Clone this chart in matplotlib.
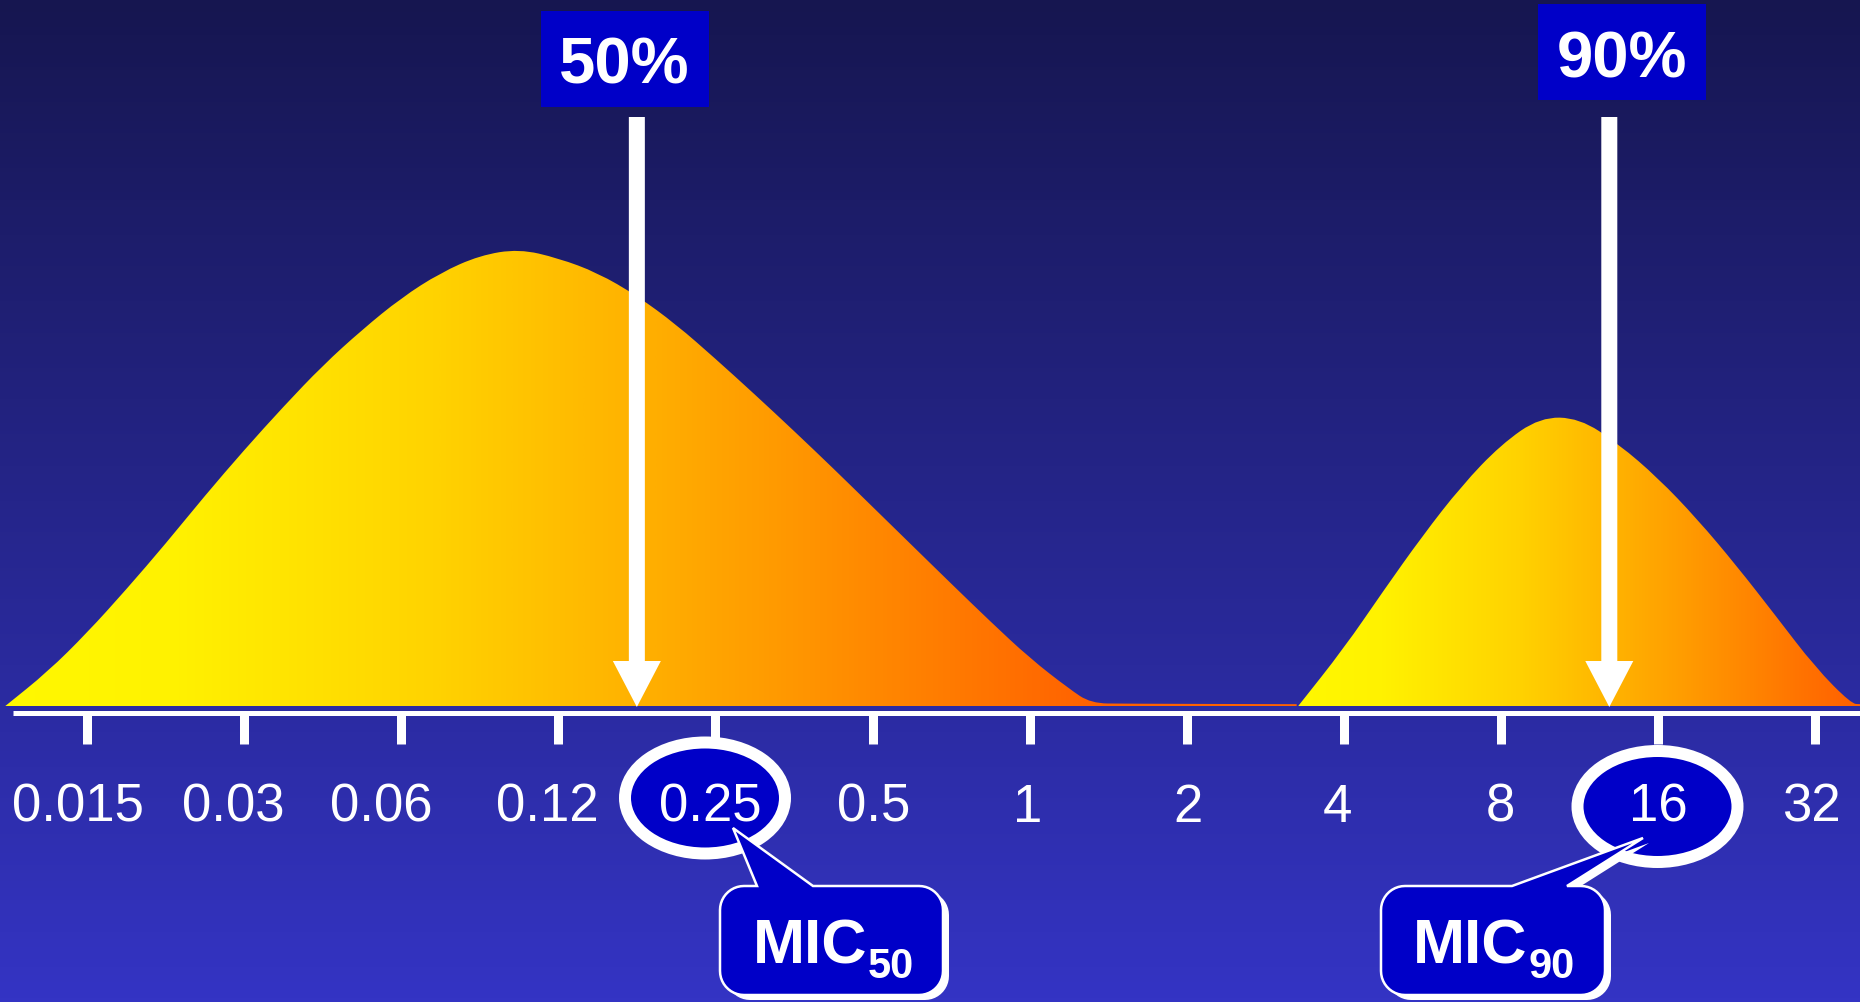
#!/usr/bin/env python3
"""MIC50 / MIC90 distribution sketch on a dilution axis."""
import numpy as np
import matplotlib
matplotlib.use('Agg')
import matplotlib.pyplot as plt
from matplotlib.path import Path
from matplotlib.patches import PathPatch, Polygon, Rectangle, Ellipse
from matplotlib.colors import LinearSegmentedColormap

# dilution series on the axis (mg/L)
mic_labels = ['0.015', '0.03', '0.06', '0.12', '0.25', '0.5',
              '1', '2', '4', '8', '16', '32']

# curves: x in dilution steps (0 = 0.015), height in % of the main peak
left_x = [-0.52, -0.25, 0.0, 0.25, 0.5, 0.75, 1.0, 1.25, 1.5, 1.75, 2.0,
          2.25, 2.5, 2.75, 3.0, 3.25, 3.5, 3.75, 4.0, 4.25, 4.5, 4.75,
          5.0, 5.25, 5.5, 5.75, 6.0, 6.25, 6.39, 6.6, 7.7]
left_h = [0, 7.5, 16.0, 25.5, 35.5, 46.0, 56.0, 65.5, 74.5, 82.3, 89.3,
          94.8, 98.6, 100.0, 98.0, 94.8, 89.8, 83.5, 76.0, 68.2, 60.2, 52.0,
          43.6, 35.2, 26.8, 18.5, 10.5, 3.8, 0.6, 0.5, 0.4]

right_x = [7.71, 8.0, 8.25, 8.5, 8.75, 9.0, 9.25, 9.5, 9.75, 10.0,
           10.25, 10.5, 10.75, 11.0, 11.23, 11.29]
right_h = [0, 12.6, 25.1, 37.2, 48.2, 57.2, 63.2, 63.0, 57.3, 49.9,
           40.9, 30.7, 19.7, 8.5, 0.5, 0.4]

mic50_step = 3.5     # 50% of isolates inhibited
mic90_step = 9.69    # 90% of isolates inhibited

W, H = 1860, 1002
STEP_PX = 157.1      # pixels per dilution step
X0_PX = 87           # pixel of the first tick
BASE_PX = 706        # curve baseline
UNIT_PX = 4.57       # pixels per height unit
# small horizontal nudges of the tick labels, in pixels
LABEL_NUDGE_PX = [-9, -11, -20, -11, -5, 1, -2, 1, -6, -1, 0, -4]

BOX_BLUE = '#0000C8'
FONT = 'Liberation Sans'


def dx(px):
    return (px - X0_PX) / STEP_PX


def dy(py):
    return (BASE_PX - py) / UNIT_PX


def lw(px):
    return px * 72 / 100


def smooth_fill_path(xs, hs):
    pts = np.column_stack([xs, hs]).astype(float)
    verts = [pts[0], (pts[0] + pts[1]) / 2]
    codes = [Path.MOVETO, Path.LINETO]
    for i in range(1, len(pts) - 1):
        verts += [pts[i], (pts[i] + pts[i + 1]) / 2]
        codes += [Path.CURVE3, Path.CURVE3]
    verts += [pts[-1], (pts[-1][0], 0), (pts[0][0], 0), (pts[0][0], 0)]
    codes += [Path.LINETO, Path.LINETO, Path.LINETO, Path.CLOSEPOLY]
    return Path(verts, codes)


def callout_points(x0, x1, y0, y1, r, base_a, base_b, tip):
    pts = [(x0 + r, y0), (base_a, y0), tip, (base_b, y0)]
    corners = [((x1 - r, y0 + r), -np.pi / 2, 0),
               ((x1 - r, y1 - r), 0, np.pi / 2),
               ((x0 + r, y1 - r), np.pi / 2, np.pi),
               ((x0 + r, y0 + r), np.pi, 1.5 * np.pi)]
    for (cx, cy), a, b in corners:
        for t in np.linspace(a, b, 12):
            pts.append((cx + r * np.cos(t), cy + r * np.sin(t)))
    return [(dx(x), dy(y)) for x, y in pts]


def main():
    fig = plt.figure(figsize=(W / 100, H / 100), dpi=100)
    ax = fig.add_axes([0, 0, 1, 1])
    ax.set_axis_off()
    xlim = (dx(0), dx(W))
    ylim = (dy(H), dy(0))

    # background: vertical navy gradient
    top = np.array([22, 22, 80]) / 255
    bot = np.array([52, 52, 196]) / 255
    t = np.linspace(0, 1, 256)[:, None]
    bg = (top[None, :] * (1 - t) + bot[None, :] * t)[:, None, :]
    ax.imshow(bg, extent=(xlim[0], xlim[1], ylim[0], ylim[1]),
              aspect='auto', origin='upper', zorder=0)

    # yellow -> orange fill
    cmap = LinearSegmentedColormap.from_list('fill', [
        (0.0, (1.0, 248 / 255, 0)),
        (0.15, (1.0, 242 / 255, 0)),
        (0.4, (1.0, 210 / 255, 0)),
        (0.7, (1.0, 156 / 255, 0)),
        (1.0, (1.0, 98 / 255, 0))])
    grad = np.linspace(0, 1, 512)[None, :]
    for xs, hs, x_end in [(left_x, left_h, 6.39), (right_x, right_h, 11.23)]:
        path = smooth_fill_path(xs, hs)
        patch = PathPatch(path, facecolor='none', edgecolor='none')
        ax.add_patch(patch)
        # gradient spans the body of the curve, the thin tail stays orange
        im = ax.imshow(grad, cmap=cmap, extent=(xs[0], x_end, 0, max(hs) + 5),
                       aspect='auto', origin='lower', zorder=1)
        tail = Rectangle((x_end, 0), xs[-1] - x_end + 0.01, max(hs),
                         facecolor=cmap(1.0), edgecolor='none', zorder=1)
        ax.add_patch(tail)
        tail.set_clip_path(patch)
        im.set_clip_path(patch)

    # axis line and ticks
    ax.plot([dx(13), xlim[1]], [dy(712.5)] * 2, color='white',
            lw=lw(5), solid_capstyle='butt', zorder=2)
    for i in range(len(mic_labels)):
        ax.plot([i, i], [dy(715), dy(744)], color='white', lw=lw(9),
                solid_capstyle='butt', zorder=2)

    # arrows from the percentage boxes
    for step in (mic50_step, mic90_step):
        sw, hw = 8 / STEP_PX, 24 / STEP_PX
        arrow = [(step - sw, dy(117)), (step + sw, dy(117)),
                 (step + sw, dy(661)), (step + hw, dy(661)),
                 (step, dy(707)), (step - hw, dy(661)),
                 (step - sw, dy(661))]
        ax.add_patch(Polygon(arrow, closed=True, facecolor='white',
                             edgecolor='none', zorder=3))

    # percentage boxes
    for (x0, x1, y0, y1), txt, cx, base in [
            ((541, 709, 11, 107), '50%', 624.5, 83),
            ((1538, 1706, 4, 100), '90%', 1621.5, 78)]:
        ax.add_patch(Rectangle((dx(x0), dy(y1)), dx(x1) - dx(x0),
                               dy(y0) - dy(y1), facecolor=BOX_BLUE,
                               edgecolor='none', zorder=4))
        ax.text(dx(cx), dy(base), txt, ha='center', va='baseline',
                fontsize=47, fontweight='bold', color='white',
                family=FONT, zorder=7)

    # highlighted labels
    for cx, cy in [(705, 798), (1657.5, 806.5)]:
        ax.add_patch(Ellipse((dx(cx), dy(cy)), 160 / STEP_PX, 111 / UNIT_PX,
                             facecolor=BOX_BLUE, edgecolor='white',
                             lw=lw(12), zorder=4))

    for i, lab in enumerate(mic_labels):
        ax.text(i + LABEL_NUDGE_PX[i] / STEP_PX, dy(822), lab, ha='center',
                va='baseline', fontsize=38, color='white', family=FONT,
                zorder=5)

    # MIC callouts
    callouts = [
        ((720, 943, 886, 995), 757, 813, (733, 828), 753, 868, '50'),
        ((1381, 1605, 886, 995), 1512, 1567, (1643, 838), 1413, 1528, '90'),
    ]
    for (x0, x1, y0, y1), ba, bb, tip, tx, sx, sub in callouts:
        shadow = callout_points(x0 + 6, x1 + 6, y0 + 5, y1 + 5, 24,
                                ba + 6, bb + 6, (tip[0] + 6, tip[1] + 5))
        ax.add_patch(Polygon(shadow, closed=True, facecolor='white',
                             edgecolor='none', zorder=6))
        body = callout_points(x0, x1, y0, y1, 24, ba, bb, tip)
        ax.add_patch(Polygon(body, closed=True, facecolor=BOX_BLUE,
                             edgecolor='white', lw=lw(2.5), zorder=6,
                             joinstyle='miter'))
        ax.text(dx(tx), dy(963), 'MIC', ha='left', va='baseline',
                fontsize=45, fontweight='bold', color='white',
                family=FONT, zorder=7)
        ax.text(dx(sx), dy(978), sub, ha='left', va='baseline',
                fontsize=30, fontweight='bold', color='white',
                family=FONT, zorder=7)

    ax.set_xlim(*xlim)
    ax.set_ylim(*ylim)
    fig.savefig('out.png', dpi=100)


if __name__ == '__main__':
    main()
